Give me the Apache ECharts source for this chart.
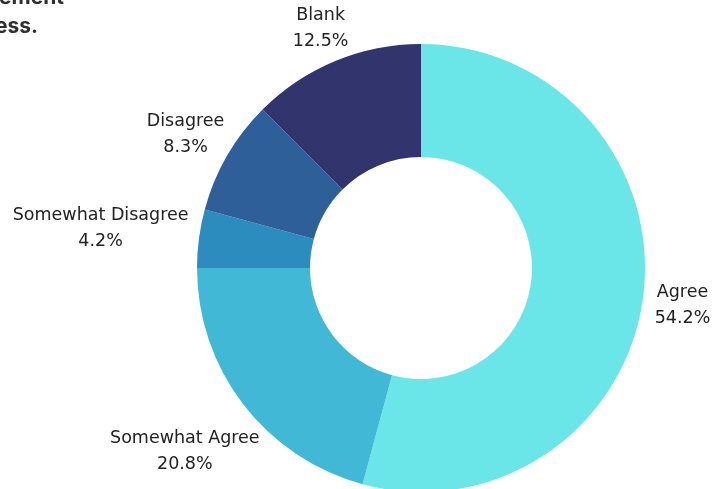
<!DOCTYPE html>
<html>
<head>
<meta charset="utf-8">
<script src="https://cdn.jsdelivr.net/npm/echarts@6/dist/echarts.min.js"></script>
<style>
  html, body { margin: 0; padding: 0; background: #ffffff; }
  #chart { width: 719px; height: 489px; }
</style>
</head>
<body>
<div id="chart"></div>
<script>
// Survey response shares (percent of respondents)
const categories = ['Agree', 'Somewhat Agree', 'Somewhat Disagree', 'Disagree', 'Blank'];
const shares = [54.2, 20.8, 4.2, 8.3, 12.5];
const sliceColors = ['#6ae6e9', '#42b8d7', '#2d8cbe', '#2e5f99', '#31346d'];

const titleLines = ['I feel supported by management', 'throughout the review process.'];

const CX = 421, CY = 268, R_OUT = 224, R_IN = 111, LABEL_GAP = 12;

const chart = echarts.init(document.getElementById('chart'), null, { renderer: 'canvas' });

const total = shares.reduce((a, b) => a + b, 0);
const cumulative = [];
shares.reduce((acc, v, i) => { cumulative[i] = acc; return acc + v; }, 0);

// Places each two-line label just outside the ring, centred on the slice's mid-angle
function placeLabel(params) {
  const i = params.dataIndex;
  const midDeg = 90 - (cumulative[i] + shares[i] / 2) / total * 360;
  const a = midDeg * Math.PI / 180;
  const c = Math.cos(a), s = Math.sin(a);
  const hw = params.labelRect.width / 2, hh = params.labelRect.height / 2;
  const reach = Math.sqrt((hw * c) * (hw * c) + (hh * s) * (hh * s));
  const d = R_OUT + LABEL_GAP + reach;
  return { x: CX + d * c, y: CY - d * s + 3, align: 'center', verticalAlign: 'middle' };
}

chart.setOption({
  animation: false,
  color: sliceColors,
  graphic: [
    { type: 'text', x: 64, y: 8, style: { text: titleLines[0], textAlign: 'right', align: 'right', textVerticalAlign: 'bottom', verticalAlign: 'bottom', font: 'bold 21px Inter', fill: '#2f2f2f' } },
    { type: 'text', x: 38, y: 37, style: { text: titleLines[1], textAlign: 'right', align: 'right', textVerticalAlign: 'bottom', verticalAlign: 'bottom', font: 'bold 21px Inter', fill: '#2f2f2f' } }
  ],
  series: [{
    type: 'pie',
    center: [CX, CY],
    radius: [R_IN, R_OUT],
    startAngle: 90,
    clockwise: true,
    avoidLabelOverlap: false,
    emphasis: { disabled: true },
    itemStyle: { borderWidth: 0 },
    label: {
      show: true,
      position: 'outside',
      formatter: p => p.name + '\n' + p.value.toFixed(1) + '%',
      fontFamily: 'DejaVu Sans',
      fontSize: 17.5,
      lineHeight: 26,
      color: '#222222'
    },
    labelLine: { show: false },
    labelLayout: placeLabel,
    data: categories.map((name, i) => ({ name, value: shares[i] }))
  }]
});
</script>
</body>
</html>
